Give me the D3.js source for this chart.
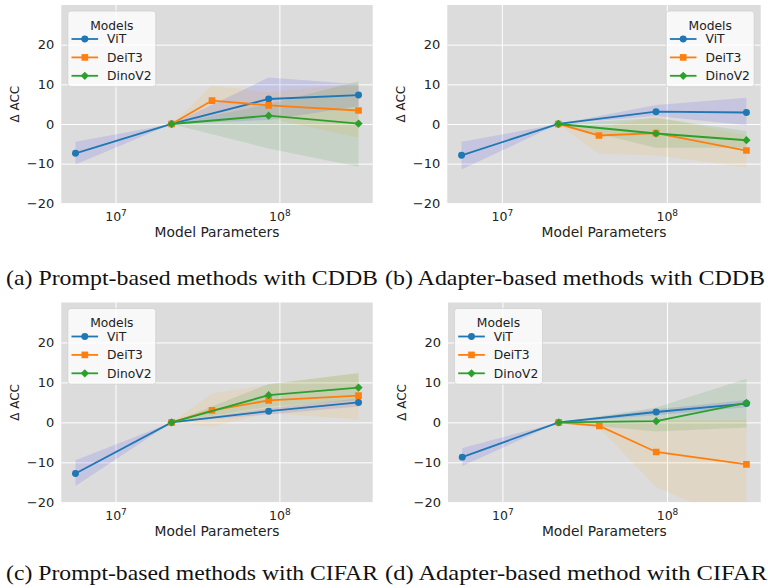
<!DOCTYPE html>
<html>
<head>
<meta charset="utf-8">
<script src="https://cdn.jsdelivr.net/npm/d3@7"></script>
<style>
  body { margin: 0; background: #fff; }
  svg text { font-family: "DejaVu Sans", sans-serif; }
  .caption { font-family: "Liberation Serif", "Times New Roman", serif !important; }
</style>
</head>
<body>
<svg id="chart" width="768" height="588"></svg>
<script>
// model sizes (parameters) for each backbone family
var vitParams = [5.7e6, 22e6, 86e6, 304e6];
var deitParams = [22e6, 38.8e6, 86e6, 304e6];
var dinoParams = [22e6, 86e6, 304e6];

var models = ["ViT", "DeiT3", "DinoV2"];
var yTicks = [-20, -10, 0, 10, 20];
var xTicks = [1e7, 1e8];

// rows are [mean, low, high] of delta accuracy
var promptCddbVit  = [[-7.4, -10.2, -4.5], [0, 0, 0], [6.3, 1.0, 11.7], [7.3, 4.5, 10.0]];
var promptCddbDeit = [[0, 0, 0], [5.9, 2.0, 9.7], [4.7, 1.5, 8.0], [3.4, -3.5, 10.3]];
var promptCddbDino = [[0, 0, 0], [2.1, -6.2, 5.0], [0.1, -10.8, 10.8]];

var adapterCddbVit  = [[-7.9, -11.5, -4.5], [0, 0, 0], [3.1, 2.0, 4.8], [2.9, -0.3, 6.6]];
var adapterCddbDeit = [[0, 0, 0], [-2.9, -7.5, -0.8], [-2.3, -7.9, 1.8], [-6.7, -11.0, -2.9]];
var adapterCddbDino = [[0, 0, 0], [-2.4, -6.0, 1.5], [-4.1, -6.0, -1.8]];

var promptCifarVit  = [[-12.8, -15.9, -9.5], [0, 0, 0], [2.8, 2.0, 3.6], [5.0, 4.0, 6.0]];
var promptCifarDeit = [[0, 0, 0], [3.0, -1.1, 7.3], [5.5, 2.3, 9.4], [6.7, 0.7, 12.5]];
var promptCifarDino = [[0, 0, 0], [6.8, 3.9, 9.6], [8.7, 5.6, 12.3]];

var adapterCifarVit  = [[-8.7, -10.9, -6.4], [0, 0, 0], [2.6, 1.8, 3.3], [4.7, 3.8, 5.6]];
var adapterCifarDeit = [[0, 0, 0], [-0.9, -1.5, 0.0], [-7.4, -16.2, 0.6], [-10.5, -26, 0.6]];
var adapterCifarDino = [[0, 0, 0], [0.3, -2.3, 3.7], [4.9, -1.3, 10.9]];

var captions = [
  "(a) Prompt-based methods with CDDB",
  "(b) Adapter-based methods with CDDB",
  "(c) Prompt-based methods with CIFAR",
  "(d) Adapter-based method with CIFAR"
];

var lineColors = ["#1f77b4", "#ff7f0e", "#2ca02c"];
var bandColors = ["blue", "orange", "green"];
var symbols = [d3.symbolCircle, d3.symbolSquare, d3.symbolSquare];
var symbolSizes = [38, 44, 34];
var symbolRot = [0, 0, 45];

var panels = [
  {left: 61.3, right: 372.7, top: 5, bottom: 203.3, legend: "left", series: [promptCddbVit, promptCddbDeit, promptCddbDino], capX: 192, capY: 285, capW: 372},
  {left: 447.3, right: 760.7, top: 5, bottom: 203.3, legend: "right", series: [adapterCddbVit, adapterCddbDeit, adapterCddbDino], capX: 575, capY: 285, capW: 380},
  {left: 61.3, right: 372.7, top: 302.5, bottom: 502.3, legend: "left", series: [promptCifarVit, promptCifarDeit, promptCifarDino], capX: 192, capY: 580, capW: 372},
  {left: 448, right: 760.7, top: 302.5, bottom: 502.3, legend: "left", series: [adapterCifarVit, adapterCifarDeit, adapterCifarDino], capX: 576, capY: 580, capW: 382}
];
var paramSets = [vitParams, deitParams, dinoParams];

var svg = d3.select("#chart");

panels.forEach(function(p, pi) {
  var w = p.right - p.left, h = p.bottom - p.top;
  var g = svg.append("g").attr("transform", "translate(" + p.left + "," + p.top + ")");

  var x = d3.scaleLog().domain([4.67e6, 3.71e8]).range([0, w]);
  var y = d3.scaleLinear().domain([-20, 30]).range([h, 0]);

  g.append("rect").attr("width", w).attr("height", h).attr("fill", "#dcdcdc");

  var clipId = "clip" + pi;
  g.append("clipPath").attr("id", clipId).append("rect").attr("width", w).attr("height", h);

  // grid
  g.append("g").attr("class", "grid")
    .call(d3.axisLeft(y).tickValues(yTicks).tickSize(-w).tickFormat(""))
    .call(function(s) { s.select(".domain").remove(); s.selectAll("line").attr("stroke", "#fff").attr("stroke-width", 1); });
  g.append("g").attr("class", "grid").attr("transform", "translate(0," + h + ")")
    .call(d3.axisBottom(x).tickValues(xTicks).tickSize(-h).tickFormat(""))
    .call(function(s) { s.select(".domain").remove(); s.selectAll("line").attr("stroke", "#fff").attr("stroke-width", 1); });

  // tick labels
  g.append("g")
    .call(d3.axisLeft(y).tickValues(yTicks).tickSize(0).tickPadding(7).tickFormat(function(d) { return d < 0 ? "\u2212" + (-d) : d; }))
    .call(function(s) { s.select(".domain").remove(); s.selectAll("text").attr("font-size", 13).attr("fill", "#222"); });
  var xa = g.append("g").attr("transform", "translate(0," + h + ")")
    .call(d3.axisBottom(x).tickValues(xTicks).tickSize(0).tickPadding(9).tickFormat(""))
    .call(function(s) { s.select(".domain").remove(); });
  xa.selectAll(".tick text").each(function(d) {
    var t = d3.select(this).attr("font-size", 12.5).attr("fill", "#222");
    t.append("tspan").text("10");
    t.append("tspan").attr("font-size", 9).attr("dy", -5).text(Math.round(Math.log10(d)));
  });

  g.append("text").attr("x", w / 2).attr("y", h + 33.5).attr("text-anchor", "middle")
    .attr("font-size", 13.8).attr("fill", "#222").text("Model Parameters");
  g.append("text").attr("transform", "translate(" + (-42) + "," + (h / 2) + ") rotate(-90)")
    .attr("text-anchor", "middle").attr("font-size", 12).attr("fill", "#222").text("\u0394 ACC");

  var plot = g.append("g").attr("clip-path", "url(#" + clipId + ")");

  // bands
  p.series.forEach(function(rows, mi) {
    var xs = paramSets[mi];
    var area = d3.area()
      .x(function(d, i) { return x(xs[i]); })
      .y0(function(d) { return y(d[1]); })
      .y1(function(d) { return y(d[2]); });
    plot.append("path").datum(rows).attr("d", area)
      .attr("fill", bandColors[mi]).attr("fill-opacity", 0.1);
  });

  // lines + markers
  p.series.forEach(function(rows, mi) {
    var xs = paramSets[mi];
    var line = d3.line()
      .x(function(d, i) { return x(xs[i]); })
      .y(function(d) { return y(d[0]); });
    plot.append("path").datum(rows).attr("d", line)
      .attr("fill", "none").attr("stroke", lineColors[mi]).attr("stroke-width", 1.8);
    plot.selectAll(null).data(rows).enter().append("path")
      .attr("d", d3.symbol().type(symbols[mi]).size(symbolSizes[mi]))
      .attr("transform", function(d, i) { return "translate(" + x(xs[i]) + "," + y(d[0]) + ") rotate(" + symbolRot[mi] + ")"; })
      .attr("fill", lineColors[mi]);
  });

  // legend
  var lw = 88, lh = 75.7;
  var lx = p.legend === "left" ? 6.5 : w - 6.5 - lw;
  var lg = g.append("g").attr("transform", "translate(" + lx + ",6)");
  lg.append("rect").attr("width", lw).attr("height", lh).attr("rx", 3)
    .attr("fill", "#fff").attr("fill-opacity", 0.8).attr("stroke", "#d0d0d0").attr("stroke-width", 0.8);
  lg.append("text").attr("x", lw / 2).attr("y", 18.5).attr("text-anchor", "middle")
    .attr("font-size", 12.3).attr("fill", "#222").text("Models");
  models.forEach(function(m, mi) {
    var cy = 28 + mi * 18.4;
    lg.append("line").attr("x1", 3.7).attr("x2", 30.3).attr("y1", cy).attr("y2", cy)
      .attr("stroke", lineColors[mi]).attr("stroke-width", 1.8);
    lg.append("path").attr("d", d3.symbol().type(symbols[mi]).size(symbolSizes[mi]))
      .attr("transform", "translate(17," + cy + ") rotate(" + symbolRot[mi] + ")")
      .attr("fill", lineColors[mi]);
    lg.append("text").attr("x", 39.3).attr("y", cy + 4.4).attr("font-size", 12.3)
      .attr("fill", "#222").text(m);
  });

  svg.append("text").attr("class", "caption")
    .attr("x", p.capX).attr("y", p.capY).attr("text-anchor", "middle")
    .attr("font-size", 21).attr("fill", "#111")
    .attr("textLength", p.capW).attr("lengthAdjust", "spacingAndGlyphs")
    .text(captions[pi]);
});
</script>
</body>
</html>
